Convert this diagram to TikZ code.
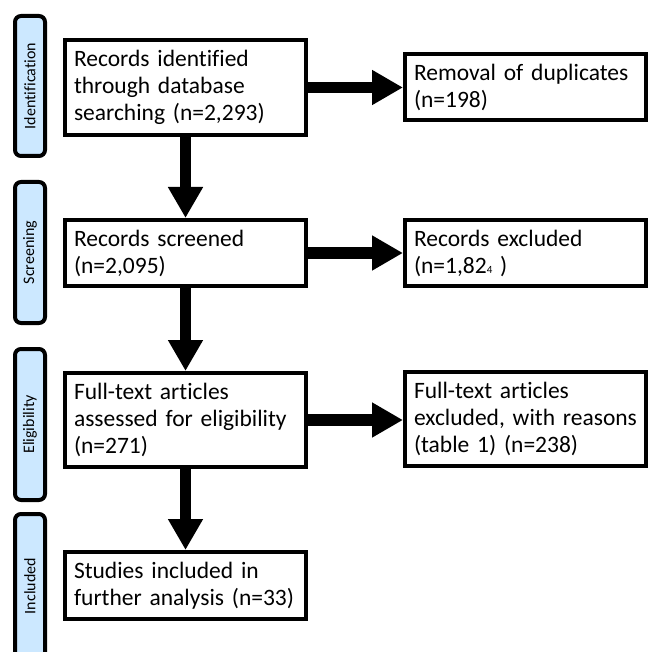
\documentclass[tikz,border=0pt]{standalone}
\usepackage{fontspec}
\setmainfont{Carlito}[Ligatures={NoCommon}]
\usetikzlibrary{arrows.meta}
\definecolor{barblue}{RGB}{204,232,255}
\begin{document}
\begin{tikzpicture}[x=1pt,y=-1pt,
  bar/.style={draw=black, fill=barblue, line width=4pt, rounded corners=6pt, rotate=90,
    minimum height=30pt, inner sep=0pt, font=\fontsize{16}{19}\selectfont},
  barlabel/.style={rotate=90, inner sep=0pt, font=\fontsize{16}{19}\selectfont},
  box/.style={draw=black, line width=4pt, minimum width=241pt, text width=223pt,
    inner xsep=9pt, inner ysep=0pt, align=left, font=\fontsize{23.5}{27}\selectfont},
  flow/.style={line width=11.5pt, -{Triangle[length=31pt,width=33pt]}},
]
\useasboundingbox (0,0) rectangle (650,652);
\clip (0,0) rectangle (650,652);

% phase bars
\node[bar, minimum width=140pt] (pid) at (30,86) {Identification};
\node[bar, minimum width=141pt] (psc) at (30,252.5) {Screening};
\node[bar, minimum width=151pt] (pel) at (30,424.5) {Eligibility};
\node[bar, minimum width=186pt] (pin) at (30,607) {};
\node[barlabel] (pinl) at (30,586) {Included};

% main boxes
\node[box, minimum height=95pt] (b1) at (185.5,87.5) {Records identified\\through database\\searching (n=2,293)};
\node[box, minimum height=66pt] (b2) at (185.5,253) {Records screened\\(n=2,095)};
\node[box, minimum height=94pt] (b3) at (185.5,420) {Full-text articles\\assessed for eligibility\\(n=271)};
\node[box, minimum height=67pt] (b4) at (185.5,585.5) {Studies included in\\further analysis (n=33)};

% side boxes
\node[box, minimum height=66pt] (r1) at (525.5,87) {Removal of duplicates\\(n=198)};
\node[box, minimum height=66pt] (r2) at (525.5,253) {Records excluded\\(n=1,82{\fontsize{11}{11}\selectfont 4} )};
\node[box, minimum height=94pt] (r3) at (525.5,419) {Full-text articles\\excluded, with reasons\\(table 1) (n=238)};

% connectors
\draw[flow] (b1.south) -- (b2.north);
\draw[flow] (b2.south) -- (b3.north);
\draw[flow] (b3.south) -- (b4.north);
\draw[flow] (b1.east) -- (b1.east -| r1.west);
\draw[flow] (b2.east) -- (b2.east -| r2.west);
\draw[flow] (b3.east) -- (b3.east -| r3.west);
\end{tikzpicture}
\end{document}
